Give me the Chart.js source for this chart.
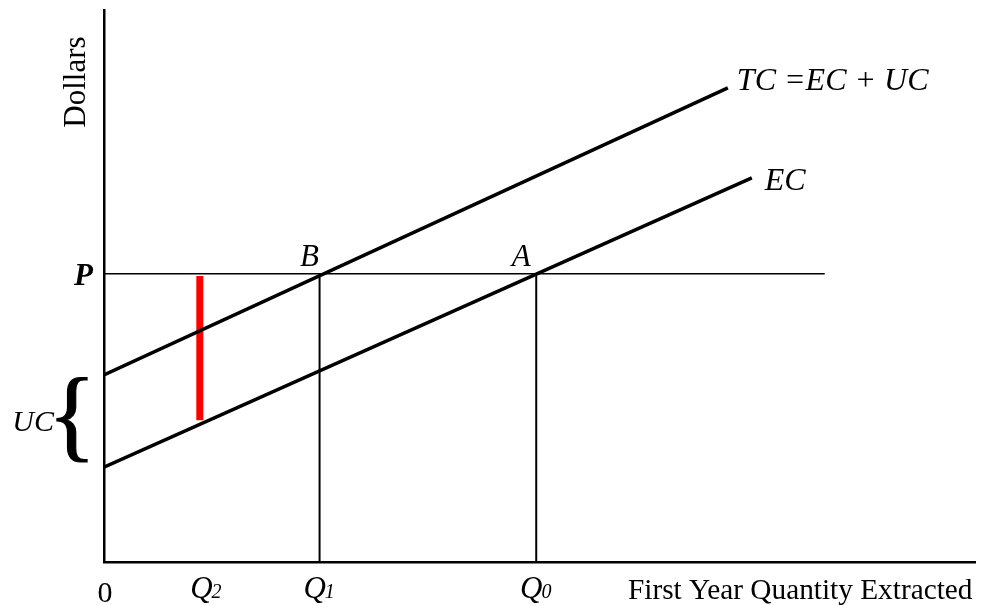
<!DOCTYPE html>
<html>
<head>
<meta charset="utf-8">
<script src="https://cdn.jsdelivr.net/npm/chart.js@4.4.1/dist/chart.umd.min.js"></script>
<style>
html,body{margin:0;padding:0;background:#fff;}
#wrap{width:1005px;height:605px;position:relative;}
canvas{display:block;}
</style>
</head>
<body>
<div id="wrap"><canvas id="c" width="1005" height="605"></canvas></div>
<script>
// ---- data (quantity on x, dollars on y) ----
const quantityTicks = [9.4, 19.8, 39.7];          // Q2, Q1, Q0 label positions
const quantityTickLabels = [["Q","2"], ["Q","1"], ["Q","0"]];
const priceLevel = 52.2;                           // P
const priceLineEnd = 66.2;
const tcX = [0, 57.3];
const tcY = [33.9, 85.9];                          // TC = EC + UC
const ecX = [0, 59.5];
const ecY = [17.2, 69.6];                          // EC
const q1Line = [19.8, 19.8];
const q0Line = [39.7, 39.7];
const ucGapX = [8.8, 8.8];
const ucGapY = [51.8, 25.7];                       // red UC segment at Q2

const pts = (xs, ys) => xs.map((x, i) => ({x, y: ys[i]}));

const labelPlugin = {
  id: 'labels',
  afterDraw(chart) {
    const ctx = chart.ctx;
    const xs = chart.scales.x, ys = chart.scales.y;
    const ca = chart.chartArea;
    const serif = '"Liberation Serif", "Times New Roman", serif';
    ctx.save();
    ctx.fillStyle = '#000';

    // Y axis title
    ctx.save();
    ctx.translate(ca.left - 27, ca.top + 72);
    ctx.rotate(-Math.PI / 2);
    ctx.font = '31px ' + serif;
    ctx.textAlign = 'center';
    ctx.textBaseline = 'middle';
    ctx.fillText('Dollars', 0, 0);
    ctx.restore();

    // P label
    ctx.font = 'italic bold 31px ' + serif;
    ctx.textAlign = 'right';
    ctx.textBaseline = 'middle';
    ctx.fillText('P', ca.left - 11, ys.getPixelForValue(priceLevel) + 3);

    // origin 0
    ctx.font = '30px ' + serif;
    ctx.textAlign = 'center';
    ctx.textBaseline = 'alphabetic';
    ctx.fillText('0', ca.left + 1, ca.bottom + 40);

    // Q tick labels with subscripts
    quantityTicks.forEach((v, i) => {
      const [main, sub] = quantityTickLabels[i];
      ctx.font = 'italic 31px ' + serif;
      const w1 = ctx.measureText(main).width;
      ctx.font = 'italic 20px ' + serif;
      const w2 = ctx.measureText(sub).width;
      const cx = xs.getPixelForValue(v);
      const x0 = cx - (w1 + w2) / 2;
      const base = ca.bottom + 36;
      ctx.textAlign = 'left';
      ctx.textBaseline = 'alphabetic';
      ctx.font = 'italic 31px ' + serif;
      ctx.fillText(main, x0, base);
      ctx.font = 'italic 20px ' + serif;
      ctx.fillText(sub, x0 + w1 - 1, base);
    });

    // X axis title
    ctx.font = '29.3px ' + serif;
    ctx.textAlign = 'left';
    ctx.textBaseline = 'middle';
    ctx.fillText('First Year Quantity Extracted', 628, ca.bottom + 29);

    // curve labels
    ctx.font = 'italic 32px ' + serif;
    ctx.textAlign = 'left';
    ctx.fillText('TC =EC + UC', xs.getPixelForValue(tcX[1]) + 9, ys.getPixelForValue(tcY[1]) - 6);
    ctx.fillText('EC', xs.getPixelForValue(ecX[1]) + 13, ys.getPixelForValue(ecY[1]) + 4);

    // intersection labels
    ctx.font = 'italic 31px ' + serif;
    ctx.textAlign = 'center';
    const pP = ys.getPixelForValue(priceLevel);
    ctx.fillText('B', xs.getPixelForValue(q1Line[0]) - 10, pP - 16);
    ctx.fillText('A', xs.getPixelForValue(q0Line[0]) - 15, pP - 16);

    // UC brace
    const midUC = (ys.getPixelForValue(tcY[0]) + ys.getPixelForValue(ecY[0])) / 2;
    ctx.font = 'italic 30px ' + serif;
    ctx.textAlign = 'right';
    ctx.fillText('UC', 54, midUC + 2);
    ctx.font = '101px ' + serif;
    ctx.textAlign = 'center';
    ctx.textBaseline = 'middle';
    ctx.lineWidth = 1.2;
    ctx.strokeStyle = '#000';
    ctx.fillText('{', 72, midUC + 1);
    ctx.strokeText('{', 72, midUC + 1);

    ctx.restore();
  }
};

new Chart(document.getElementById('c'), {
  type: 'scatter',
  data: {
    datasets: [
      { data: pts(tcX, tcY), showLine: true, borderColor: '#000', borderWidth: 3.5, pointRadius: 0 },
      { data: pts(ecX, ecY), showLine: true, borderColor: '#000', borderWidth: 3.5, pointRadius: 0 },
      { data: pts([0, priceLineEnd], [priceLevel, priceLevel]), showLine: true, borderColor: '#000', borderWidth: 1.5, pointRadius: 0 },
      { data: pts(q1Line, [0, priceLevel]), showLine: true, borderColor: '#000', borderWidth: 2, pointRadius: 0 },
      { data: pts(q0Line, [0, priceLevel]), showLine: true, borderColor: '#000', borderWidth: 2, pointRadius: 0 },
      { data: pts(ucGapX, ucGapY), showLine: true, borderColor: '#ff0000', borderWidth: 7, pointRadius: 0 }
    ]
  },
  options: {
    responsive: false,
    devicePixelRatio: 1,
    animation: false,
    layout: { padding: { left: 104, top: 10, right: 30, bottom: 43 } },
    plugins: { legend: { display: false }, tooltip: { enabled: false } },
    scales: {
      x: {
        type: 'linear', min: 0, max: 80,
        grid: { display: false },
        ticks: { display: false },
        border: { display: true, color: '#000', width: 2.5 },
        afterFit(s) { s.height = 0; }
      },
      y: {
        type: 'linear', min: 0, max: 100,
        grid: { display: false },
        ticks: { display: false },
        border: { display: true, color: '#000', width: 2.5 },
        afterFit(s) { s.width = 0; }
      }
    }
  },
  plugins: [labelPlugin]
});
</script>
</body>
</html>
